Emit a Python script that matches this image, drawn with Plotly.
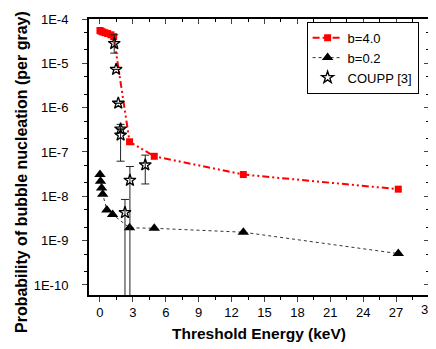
import plotly.graph_objects as go

# ---- data ----
b4_x = [0, 0.1, 0.25, 0.45, 0.7, 1.0, 1.25, 2.7, 4.95, 13.07, 27.2]
b4_y = [5.5e-5, 5.3e-5, 5.1e-5, 4.9e-5, 4.7e-5, 4.4e-5, 4.0e-5, 1.7e-7, 8.0e-8, 3.1e-8, 1.45e-8]

b02_x = [0, 0.05, 0.15, 0.25, 0.63, 1.15, 2.7, 4.95, 13.07, 27.2]
b02_y = [3.1e-8, 2.2e-8, 1.55e-8, 1.12e-8, 4.9e-9, 3.9e-9, 1.95e-9, 1.9e-9, 1.55e-9, 5.1e-10]

coupp_x = [1.30, 1.47, 1.67, 1.88, 1.88, 2.28, 2.73, 4.13]
coupp_y = [2.8e-5, 7.3e-6, 1.26e-6, 3.3e-7, 2.4e-7, 4.3e-9, 2.3e-8, 5.1e-8]
coupp_hi = [4.4e-5, 7.3e-6, 1.26e-6, 3.3e-7, 4.2e-7, 8.5e-9, 4.7e-8, 8.5e-8]
coupp_lo = [1.7e-5, 7.3e-6, 1.26e-6, 3.3e-7, 6.2e-8, 0.0, 0.0, 1.9e-8]

x_ticks = [0, 3, 6, 9, 12, 15, 18, 21, 24, 27, 30]
x_ticktext = ["0", "3", "6", "9", "12", "15", "18", "21", "24", "27", "30"]
y_tickvals = [1e-4, 1e-5, 1e-6, 1e-7, 1e-8, 1e-9, 1e-10]
y_ticktext = ["1E-4", "1E-5", "1E-6", "1E-7", "1E-8", "1E-9", "1E-10"]

x_title = "Threshold Energy (keV)"
y_title = "Probability of bubble nucleation (per gray)"

FONT = "Liberation Sans, Arial, sans-serif"

err_plus = [h - v for h, v in zip(coupp_hi, coupp_y)]
err_minus = [v - l for v, l in zip(coupp_y, coupp_lo)]

fig = go.Figure()

fig.add_trace(go.Scatter(
    x=b4_x, y=b4_y, name="b=4.0", mode="lines+markers",
    line=dict(color="#ff0000", width=2, dash="7px,3px,2px,3px,2px,3px"),
    marker=dict(symbol="square", size=7, color="#ff0000"),
))
fig.add_trace(go.Scatter(
    x=b02_x, y=b02_y, name="b=0.2", mode="lines+markers",
    line=dict(color="#333333", width=1, dash="dot"),
    marker=dict(symbol="triangle-up", size=10, color="black"),
))
fig.add_trace(go.Scatter(
    x=coupp_x, y=coupp_y, name="COUPP [3]", mode="markers",
    marker=dict(symbol="star-open", size=9, color="black", line=dict(width=1.3, color="black")),
    error_y=dict(type="data", symmetric=False, array=err_plus, arrayminus=err_minus,
                 color="#222222", thickness=1, width=4),
))
# helper empty traces so the extra axes (mirrored ticks, spaced labels) are drawn
fig.add_trace(go.Scatter(x=[None], y=[None], xaxis="x2", yaxis="y2",
                         showlegend=False, hoverinfo="skip"))
fig.add_trace(go.Scatter(x=[None], y=[None], xaxis="x", yaxis="y3",
                         showlegend=False, hoverinfo="skip"))

xr = [-1, 30]
yr = [-10.226, -4]

# last x tick label is drawn as an annotation so it is not dropped at the figure edge
axis_ticktext = x_ticktext[:-1] + [""]
annots = [
    dict(text=x_ticktext[-1], xref="x", yref="paper", x=x_ticks[-1], y=-0.054, xshift=-1.5,
         xanchor="center", yanchor="middle", showarrow=False, font=dict(size=13)),
    dict(text="<b>%s</b>" % x_title, xref="paper", yref="paper", x=0.5, y=-0.141,
         xanchor="center", yanchor="middle", showarrow=False, font=dict(size=15.5)),
    dict(text="<b>%s</b>" % y_title, xref="paper", yref="paper", x=-0.197, y=0.4457,
         xanchor="center", yanchor="middle", showarrow=False, textangle=-90,
         font=dict(size=16)),
]

# the page body adds an 8px offset; figure size/margins compensate for it
fig.update_layout(
    width=428, height=341,
    margin=dict(l=81, r=7, t=11, b=54),
    paper_bgcolor="white", plot_bgcolor="white",
    font=dict(family=FONT, size=13, color="black"),
    showlegend=True,
    legend=dict(x=0.64, y=0.99, xanchor="left", yanchor="top",
                bgcolor="white", bordercolor="black", borderwidth=1,
                font=dict(size=13), tracegroupgap=0, itemwidth=30),
    xaxis=dict(range=xr, tickvals=x_ticks, ticktext=axis_ticktext, ticks="outside",
               ticklen=5, tickwidth=1, automargin=False,
               showline=True, linecolor="black", linewidth=1.5, showgrid=False, zeroline=False,
               minor=dict(tickvals=[v + 1.5 for v in x_ticks[:-1]], ticks="outside", ticklen=3,
                          tickcolor="black", showgrid=False),
               tickfont=dict(size=13)),
    yaxis=dict(type="log", range=yr, tickvals=y_tickvals, showticklabels=False,
               ticks="outside", ticklen=5, tickwidth=1, automargin=False,
               showline=True, linecolor="black", linewidth=1.5, showgrid=False, zeroline=False,
               minor=dict(ticks="outside", ticklen=3, tickcolor="black", showgrid=False)),
    # label-only axis: transparent long ticks push the labels away from the frame
    yaxis3=dict(type="log", range=yr, overlaying="y", side="left", tickvals=y_tickvals,
                ticktext=y_ticktext, ticks="outside", ticklen=17,
                tickcolor="rgba(0,0,0,0)", showline=False, showgrid=False, zeroline=False,
                automargin=False, tickfont=dict(size=13)),
    xaxis2=dict(range=xr, overlaying="x", side="top", tickvals=x_ticks, ticks="inside",
                ticklen=5, showticklabels=False, showline=True, linecolor="black", linewidth=1.5,
                showgrid=False, zeroline=False, automargin=False,
                minor=dict(tickvals=[v + 1.5 for v in x_ticks[:-1]], ticks="inside", ticklen=3,
                           tickcolor="black", showgrid=False)),
    yaxis2=dict(type="log", range=yr, overlaying="y", side="right", tickvals=y_tickvals,
                ticks="inside", ticklen=5, showticklabels=False, showline=True, automargin=False,
                linecolor="black", linewidth=1.5, showgrid=False, zeroline=False,
                minor=dict(ticks="inside", ticklen=3, tickcolor="black", showgrid=False)),
    annotations=annots,
)

fig.write_html("out.html")
